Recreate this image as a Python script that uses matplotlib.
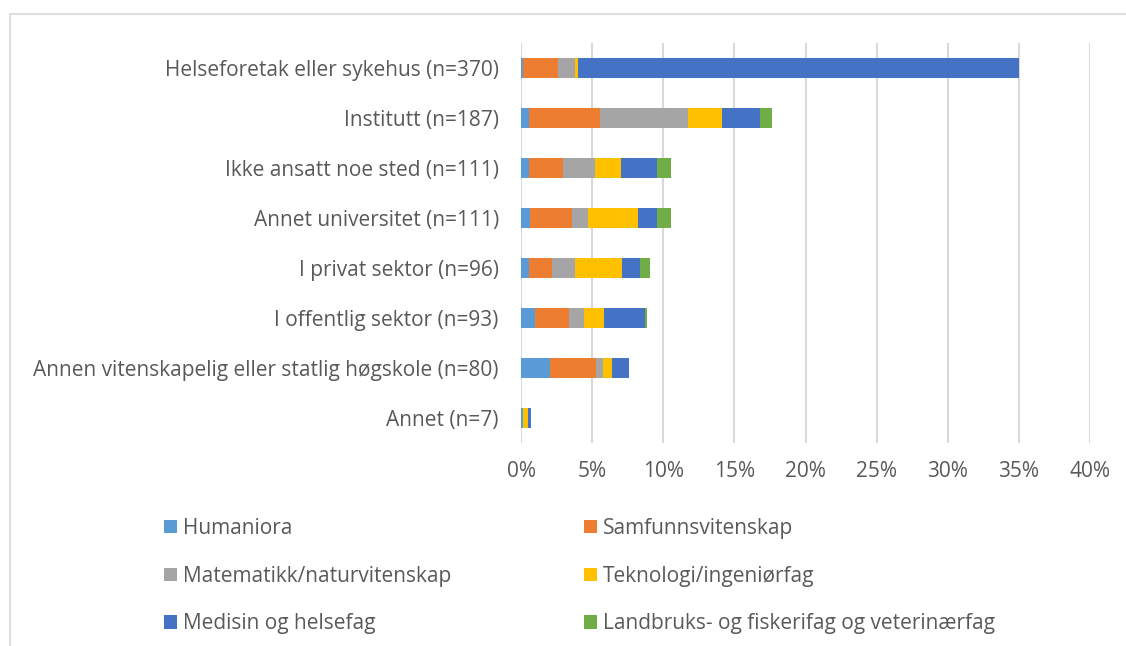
import matplotlib

matplotlib.use("Agg")
import matplotlib.pyplot as plt
from matplotlib.patches import Patch, Rectangle
from matplotlib.ticker import PercentFormatter

plt.rcParams["font.family"] = ["Open Sans", "DejaVu Sans"]

# Share of all respondents (%)
categories = [
    "Helseforetak eller sykehus (n=370)",
    "Institutt (n=187)",
    "Ikke ansatt noe sted (n=111)",
    "Annet universitet (n=111)",
    "I privat sektor (n=96)",
    "I offentlig sektor (n=93)",
    "Annen vitenskapelig eller statlig høgskole (n=80)",
    "Annet (n=7)",
]
humaniora = [0.12, 0.56, 0.56, 0.65, 0.56, 0.96, 2.06, 0.15]
samfunn = [2.48, 5.01, 2.37, 2.93, 1.62, 2.43, 3.24, 0.00]
matnat = [1.20, 6.16, 2.27, 1.12, 1.61, 1.06, 0.46, 0.00]
teknologi = [0.20, 2.39, 1.80, 3.50, 3.31, 1.35, 0.61, 0.37]
medisin = [31.00, 2.66, 2.55, 1.35, 1.26, 2.91, 1.21, 0.15]
landbruk = [0.00, 0.87, 1.01, 1.01, 0.74, 0.12, 0.00, 0.00]

series = [
    ("Humaniora", humaniora, "#5B9BD5"),
    ("Samfunnsvitenskap", samfunn, "#ED7D31"),
    ("Matematikk/naturvitenskap", matnat, "#A5A5A5"),
    ("Teknologi/ingeniørfag", teknologi, "#FFC000"),
    ("Medisin og helsefag", medisin, "#4472C4"),
    ("Landbruks- og fiskerifag og veterinærfag", landbruk, "#70AD47"),
]

TEXT = "#595959"
FS = 15
W, H = 1126, 646

fig = plt.figure(figsize=(W / 100, H / 100), dpi=100)
# light frame around the chart area, as in the source
fig.patches.append(Rectangle((10 / W, -0.02), 1.02, 1 - 14 / H + 0.02,
                             transform=fig.transFigure, fill=False,
                             edgecolor="#d9d9d9", linewidth=1.2))

ax = fig.add_axes([521 / W, 1 - 443 / H, 569 / W, 400 / H])
y = range(len(categories))
left = [0.0] * len(categories)
handles = {}
for name, vals, color in series:
    ax.barh(y, vals, left=left, height=0.4, color=color, zorder=3)
    left = [a + b for a, b in zip(left, vals)]
    handles[name] = Patch(facecolor=color)

ax.set_xlim(0, 40)
ax.set_ylim(len(categories) - 0.5, -0.5)
ax.set_xticks(range(0, 41, 5))
ax.xaxis.set_major_formatter(PercentFormatter(decimals=0))
ax.set_yticks(list(y))
ax.set_yticklabels(categories)
ax.grid(axis="x", color="#d9d9d9", linewidth=1.5, zorder=0)
for s in ax.spines.values():
    s.set_visible(False)
ax.tick_params(axis="both", length=0, labelsize=FS, labelcolor=TEXT)
ax.tick_params(axis="y", pad=16)
ax.tick_params(axis="x", pad=13)

legend_kw = dict(frameon=False, fontsize=FS, labelcolor=TEXT, handlelength=0.6,
                 handleheight=0.6, handletextpad=0.3, labelspacing=1.28,
                 borderaxespad=0, borderpad=0, loc="upper left")
col1 = ["Humaniora", "Matematikk/naturvitenskap", "Medisin og helsefag"]
col2 = ["Samfunnsvitenskap", "Teknologi/ingeniørfag",
        "Landbruks- og fiskerifag og veterinærfag"]
fig.legend([handles[n] for n in col1], col1, bbox_to_anchor=(164 / W, 1 - 518 / H), **legend_kw)
fig.legend([handles[n] for n in col2], col2, bbox_to_anchor=(584 / W, 1 - 518 / H), **legend_kw)

fig.savefig("out.png", dpi=100)
